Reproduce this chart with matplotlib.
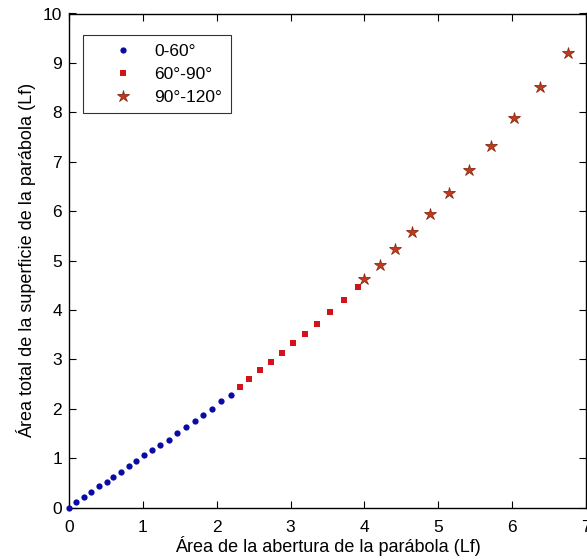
import numpy as np
import matplotlib.pyplot as plt

plt.rcParams['font.family'] = ['Liberation Sans', 'DejaVu Sans']

# 0-60 deg
x_a = [0.00, 0.10, 0.20, 0.30, 0.40, 0.51, 0.60, 0.70, 0.81, 0.91, 1.02,
       1.13, 1.23, 1.35, 1.46, 1.58, 1.70, 1.82, 1.94, 2.06, 2.19]
y_a = [0.00, 0.11, 0.21, 0.32, 0.43, 0.53, 0.63, 0.73, 0.84, 0.95, 1.06,
       1.16, 1.27, 1.38, 1.51, 1.63, 1.75, 1.88, 2.00, 2.15, 2.29]
# 60-90 deg
x_b = [2.31, 2.44, 2.59, 2.73, 2.88, 3.03, 3.19, 3.36, 3.53, 3.72, 3.91]
y_b = [2.44, 2.60, 2.78, 2.95, 3.13, 3.33, 3.52, 3.72, 3.95, 4.21, 4.47]
# 90-120 deg
x_c = [4.00, 4.21, 4.42, 4.65, 4.89, 5.15, 5.42, 5.71, 6.03, 6.38, 6.75]
y_c = [4.63, 4.91, 5.23, 5.57, 5.95, 6.37, 6.83, 7.32, 7.89, 8.52, 9.21]

labels = ['0-60°', '60°-90°', '90°-120°']

fig = plt.figure(figsize=(5.87, 5.6), dpi=100)
ax = fig.add_axes([69 / 587, (560 - 507.7) / 560, (586 - 69) / 587, (507.7 - 13.5) / 560])

ax.plot(x_a, y_a, 'o', color='#0a0aa5', markersize=4.5, markeredgewidth=0,
        label=labels[0], clip_on=False, zorder=3)
ax.plot(x_b, y_b, 's', color='#d4121c', markersize=4.3, markeredgewidth=0,
        label=labels[1], clip_on=False, zorder=3)
ax.plot(x_c, y_c, '*', color='#c23a1c', markeredgecolor='#8a2a12', markeredgewidth=0.6,
        markersize=9, label=labels[2], clip_on=False, zorder=3)

ax.set_xlim(0, 7)
ax.set_ylim(0, 10)
ax.set_xticks(range(0, 8))
ax.set_yticks(range(0, 11))
ax.tick_params(direction='in', top=True, right=True, length=5, labelsize=12.5)
ax.tick_params(axis='x', pad=8.5)
ax.tick_params(axis='y', pad=5)
for s in ax.spines.values():
    s.set_linewidth(1.0)

ax.set_xlabel('Área de la abertura de la parábola (Lf)', fontsize=13, labelpad=1)
ax.set_ylabel('Área total de la superficie de la parábola (Lf)', fontsize=13, labelpad=5)

leg = ax.legend(loc='upper left', bbox_to_anchor=(14 / 517, 1 - 21.5 / 494.2), borderaxespad=0,
                fancybox=False, edgecolor='black', fontsize=12.5, handletextpad=0.0,
                borderpad=0.5, labelspacing=0.45, handlelength=3.6, numpoints=1)
leg.get_frame().set_linewidth(0.8)

fig.savefig('out.png', dpi=100)
